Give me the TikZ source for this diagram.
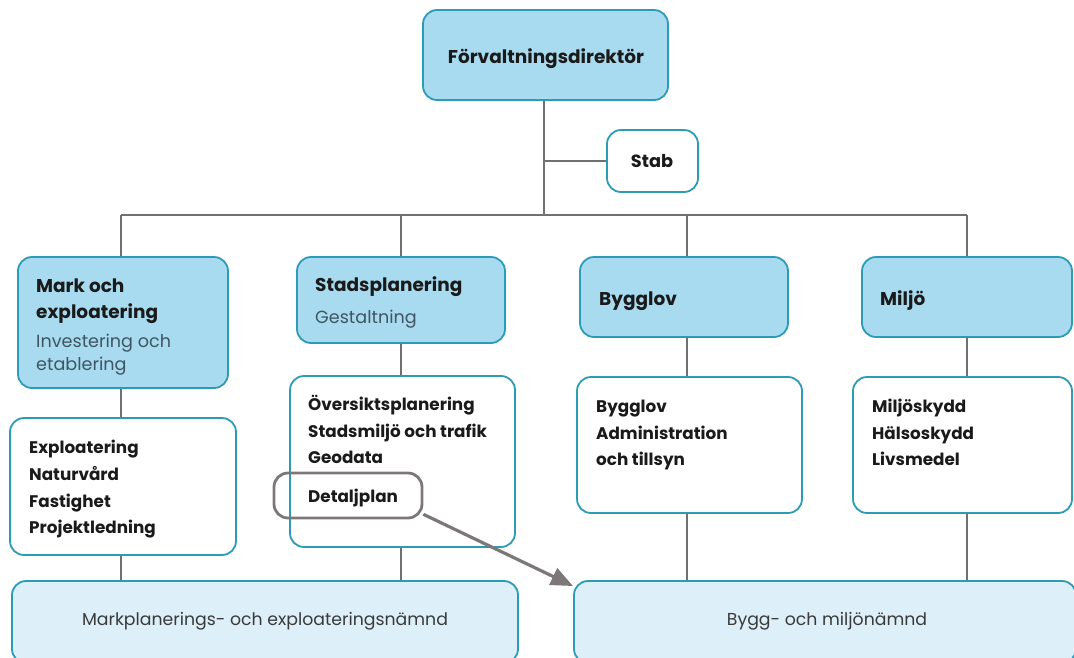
\documentclass[tikz,border=0pt]{standalone}
\usepackage{fontspec}
\setmainfont{Poppins}
\usetikzlibrary{arrows.meta}
\definecolor{bluefill}{HTML}{A8DBEF}
\definecolor{tealline}{HTML}{2C9CB6}
\definecolor{lightfill}{HTML}{DDEFF8}
\definecolor{conn}{HTML}{707070}
\definecolor{hl}{HTML}{7D7878}
\definecolor{subtext}{HTML}{3F5560}
\definecolor{bottext}{HTML}{3A3A3A}
\definecolor{ink}{HTML}{1A1A1A}
\begin{document}
\begin{tikzpicture}[x=1pt,y=-1pt,
  box/.style={draw=tealline, line width=1.8pt, rounded corners=14pt, inner sep=0pt},
  topbox/.style={box, fill=bluefill},
  listbox/.style={box, fill=white},
  basebox/.style={box, fill=lightfill},
  ttl/.style={anchor=base west, inner sep=0pt, text=ink, font=\fontsize{18.5}{22}\selectfont\bfseries},
  sub/.style={anchor=base west, inner sep=0pt, text=subtext, font=\fontsize{17.6}{21}\selectfont},
  item/.style={anchor=base west, inner sep=0pt, text=ink, font=\fontsize{16.8}{20}\selectfont\bfseries},
  bottxt/.style={anchor=base, inner sep=0pt, text=bottext, font=\fontsize{17.3}{20}\selectfont},
  conline/.style={draw=conn, line width=1.8pt},
  hlarrow/.style={draw=hl, line width=3.2pt, -{Triangle[length=22pt,width=18pt]}}
]
\useasboundingbox (0,0) rectangle (1074,657);
\begin{scope}
\clip (0,0) rectangle (1074,657);
% coordinates of connector columns
\coordinate (bus) at (544,215);
\coordinate (c1) at (121,215);
\coordinate (c2) at (401,215);
\coordinate (c3) at (687,215);
\coordinate (c4) at (967,215);

% boxes
\node[topbox, minimum width=245pt, minimum height=90pt] (dir) at (545.5,55) {};
\node[listbox, minimum width=91pt, minimum height=62pt] (stab) at (652.5,161) {};
\node[topbox, minimum width=210pt, minimum height=131pt] (mark) at (123,322.5) {};
\node[topbox, minimum width=208pt, minimum height=86pt] (stad) at (401,300) {};
\node[topbox, minimum width=208pt, minimum height=80pt] (bygg) at (684,297) {};
\node[topbox, minimum width=210pt, minimum height=80pt] (milj) at (967,297) {};
\node[listbox, minimum width=226pt, minimum height=137pt] (markL) at (123,486.5) {};
\node[listbox, minimum width=225pt, minimum height=171pt] (stadL) at (402.5,461.5) {};
\node[listbox, minimum width=225pt, minimum height=136pt] (byggL) at (689.5,445) {};
\node[listbox, minimum width=219pt, minimum height=136pt] (miljL) at (962.5,445) {};
\node[basebox, minimum width=506pt, minimum height=82pt] (markN) at (265,622) {};
\node[basebox, minimum width=502pt, minimum height=82pt] (byggN) at (825,622) {};

% connectors
\draw[conline] (dir.south -| bus) -- (bus);
\draw[conline] (stab.west) -- (stab.west -| bus);
\draw[conline] (c1) -- (c4);
\foreach \c/\a/\b/\n in {c1/mark/markL/markN, c2/stad/stadL/markN, c3/bygg/byggL/byggN, c4/milj/miljL/byggN}{
  \draw[conline] (\c) -- (\c |- \a.north);
  \draw[conline] (\c |- \a.south) -- (\c |- \b.north);
  \draw[conline] (\c |- \b.south) -- (\c |- \n.north);
}

% texts
\node[ttl, anchor=base] (tdir) at (546,63) {Förvaltningsdirektör};
\node[ttl, anchor=base, font=\fontsize{17.7}{21}\selectfont\bfseries] (tstab) at (652,167) {Stab};

\node[ttl] (tm1) at (36,292) {Mark och};
\node[ttl] (tm2) at (36,318) {exploatering};
\node[sub] (tm3) at (36,347) {Investering och};
\node[sub] (tm4) at (36,370) {etablering};

\node[ttl] (ts1) at (315,291) {Stadsplanering};
\node[sub] (ts2) at (315,323) {Gestaltning};

\node[ttl] (tb1) at (599,305) {Bygglov};
\node[ttl] (tmi1) at (880,305) {Miljö};

\node[item] (l1) at (29,453) {Exploatering};
\node[item] (l2) at (29,480) {Naturvård};
\node[item] (l3) at (29,507) {Fastighet};
\node[item] (l4) at (29,533) {Projektledning};

\node[item] (s1) at (308,410) {Översiktsplanering};
\node[item] (s2) at (308,437) {Stadsmiljö och trafik};
\node[item] (s3) at (308,463) {Geodata};
\node[item] (s4) at (308,502) {Detaljplan};

\node[item] (b1) at (596,412) {Bygglov};
\node[item] (b2) at (596,439) {Administration};
\node[item] (b3) at (596,465) {och tillsyn};

\node[item] (m1) at (872,412) {Miljöskydd};
\node[item] (m2) at (872,439) {Hälsoskydd};
\node[item] (m3) at (872,465) {Livsmedel};

\node[bottxt] (n1) at (265,625) {Markplanerings- och exploateringsnämnd};
\node[bottxt] (n2) at (827,625) {Bygg- och miljönämnd};

% highlight
\node[draw=hl, line width=2.8pt, rounded corners=14pt, minimum width=148pt, minimum height=45pt, inner sep=0pt] (detalj) at (348,495.5) {};
\coordinate (tip) at (573,586);
\draw[hlarrow] (detalj.-14) -- (tip);
\end{scope}
\end{tikzpicture}
\end{document}
